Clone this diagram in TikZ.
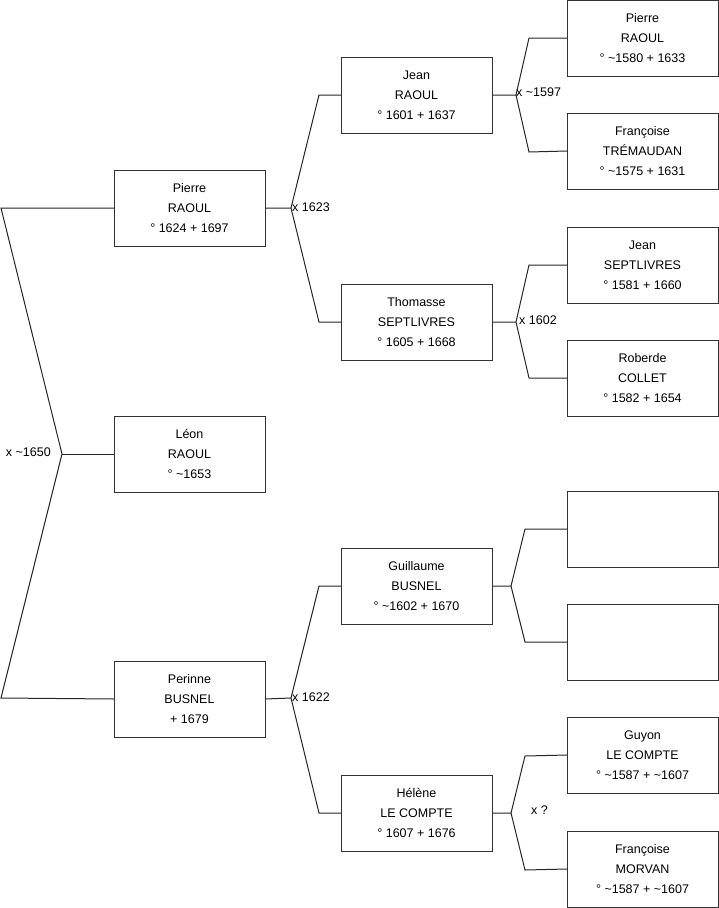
\documentclass[tikz,border=0pt]{standalone}
\usepackage{fontspec}
\setmainfont{Liberation Sans}
\newcommand\tld{\textasciitilde}
\begin{document}
\begin{tikzpicture}[x=1pt,y=-1pt,
 person/.style={draw=black!80, line width=1pt, minimum width=151pt, minimum height=76pt, inner sep=0pt, outer sep=0pt, align=center, font=\fontsize{12.5}{20}\selectfont},
 link/.style={draw=black!85, line width=1pt},
 lbl/.style={font=\fontsize{12.5}{15}\selectfont, inner sep=0pt}]
\useasboundingbox (0,0) rectangle (719,908);
% column 1
\node[person] (p1) at (189.5,208) {Pierre\\RAOUL\\° 1624 + 1697};
\node[person] (leon) at (189.5,454) {Léon\\RAOUL\\° \tld1653};
\node[person] (p3) at (189.5,699) {Perinne\\BUSNEL\\+ 1679};
% column 2
\node[person] (jean) at (416.5,95) {Jean\\RAOUL\\° 1601 + 1637};
\node[person] (thom) at (416.5,322) {Thomasse\\SEPTLIVRES\\° 1605 + 1668};
\node[person] (guil) at (416.5,586) {Guillaume\\BUSNEL\\° \tld1602 + 1670};
\node[person] (hel) at (416.5,813) {Hélène\\LE COMPTE\\° 1607 + 1676};
% column 3
\node[person] (pr) at (642.5,38) {Pierre\\RAOUL\\° \tld1580 + 1633};
\node[person] (ft) at (642.5,151) {Françoise\\TRÉMAUDAN\\° \tld1575 + 1631};
\node[person] (js) at (642.5,265) {Jean\\SEPTLIVRES\\° 1581 + 1660};
\node[person] (rc) at (642.5,378) {Roberde\\COLLET\\° 1582 + 1654};
\node[person] (e1) at (642.5,529) {};
\node[person] (e2) at (642.5,642) {};
\node[person] (gl) at (642.5,755) {Guyon\\LE COMPTE\\° \tld1587 + \tld1607};
\node[person] (fm) at (642.5,869) {Françoise\\MORVAN\\° \tld1587 + \tld1607};
% bracket: Léon
\coordinate (a1) at (1,208);
\coordinate (a2) at (62,454);
\coordinate (a3) at (1,698);
\draw[link] (p1.west) -- (a1) -- (a2) -- (a3) -- (p3.west);
\draw[link] (a2) -- (leon.west);
\node[lbl, anchor=east] (m1) at (51,452) {x \tld1650};
% bracket: Pierre
\coordinate (b1) at (291,208);
\coordinate (b2) at (319,95);
\coordinate (b3) at (319,322);
\draw[link] (p1.east) -- (b1) -- (b2) -- (jean.west);
\draw[link] (b1) -- (b3) -- (thom.west);
\node[lbl, anchor=west] (m2) at (292,207) {x 1623};
% bracket: Perinne
\coordinate (c1) at (291,698);
\coordinate (c2) at (319,586);
\coordinate (c3) at (319,813);
\draw[link] (p3.east) -- (c1) -- (c2) -- (guil.west);
\draw[link] (c1) -- (c3) -- (hel.west);
\node[lbl, anchor=west] (m3) at (292,697) {x 1622};
% bracket: Jean
\coordinate (d1) at (516,95);
\coordinate (d2) at (529,38);
\coordinate (d3) at (529,152);
\draw[link] (jean.east) -- (d1) -- (d2) -- (pr.west);
\draw[link] (d1) -- (d3) -- (ft.west);
\node[lbl, anchor=west] (m4) at (516,92) {x \tld1597};
% bracket: Thomasse
\coordinate (f1) at (516,322);
\coordinate (f2) at (529,265);
\coordinate (f3) at (529,378);
\draw[link] (thom.east) -- (f1) -- (f2) -- (js.west);
\draw[link] (f1) -- (f3) -- (rc.west);
\node[lbl, anchor=west] (m5) at (519,320) {x 1602};
% bracket: Guillaume
\coordinate (g1) at (511,586);
\coordinate (g2) at (525,529);
\coordinate (g3) at (525,642);
\draw[link] (guil.east) -- (g1) -- (g2) -- (e1.west);
\draw[link] (g1) -- (g3) -- (e2.west);
% bracket: Hélène
\coordinate (h1) at (511,813);
\coordinate (h2) at (525,756);
\coordinate (h3) at (525,870);
\draw[link] (hel.east) -- (h1) -- (h2) -- (gl.west);
\draw[link] (h1) -- (h3) -- (fm.west);
\node[lbl, anchor=west] (m6) at (531,810) {x ?};
\end{tikzpicture}
\end{document}
